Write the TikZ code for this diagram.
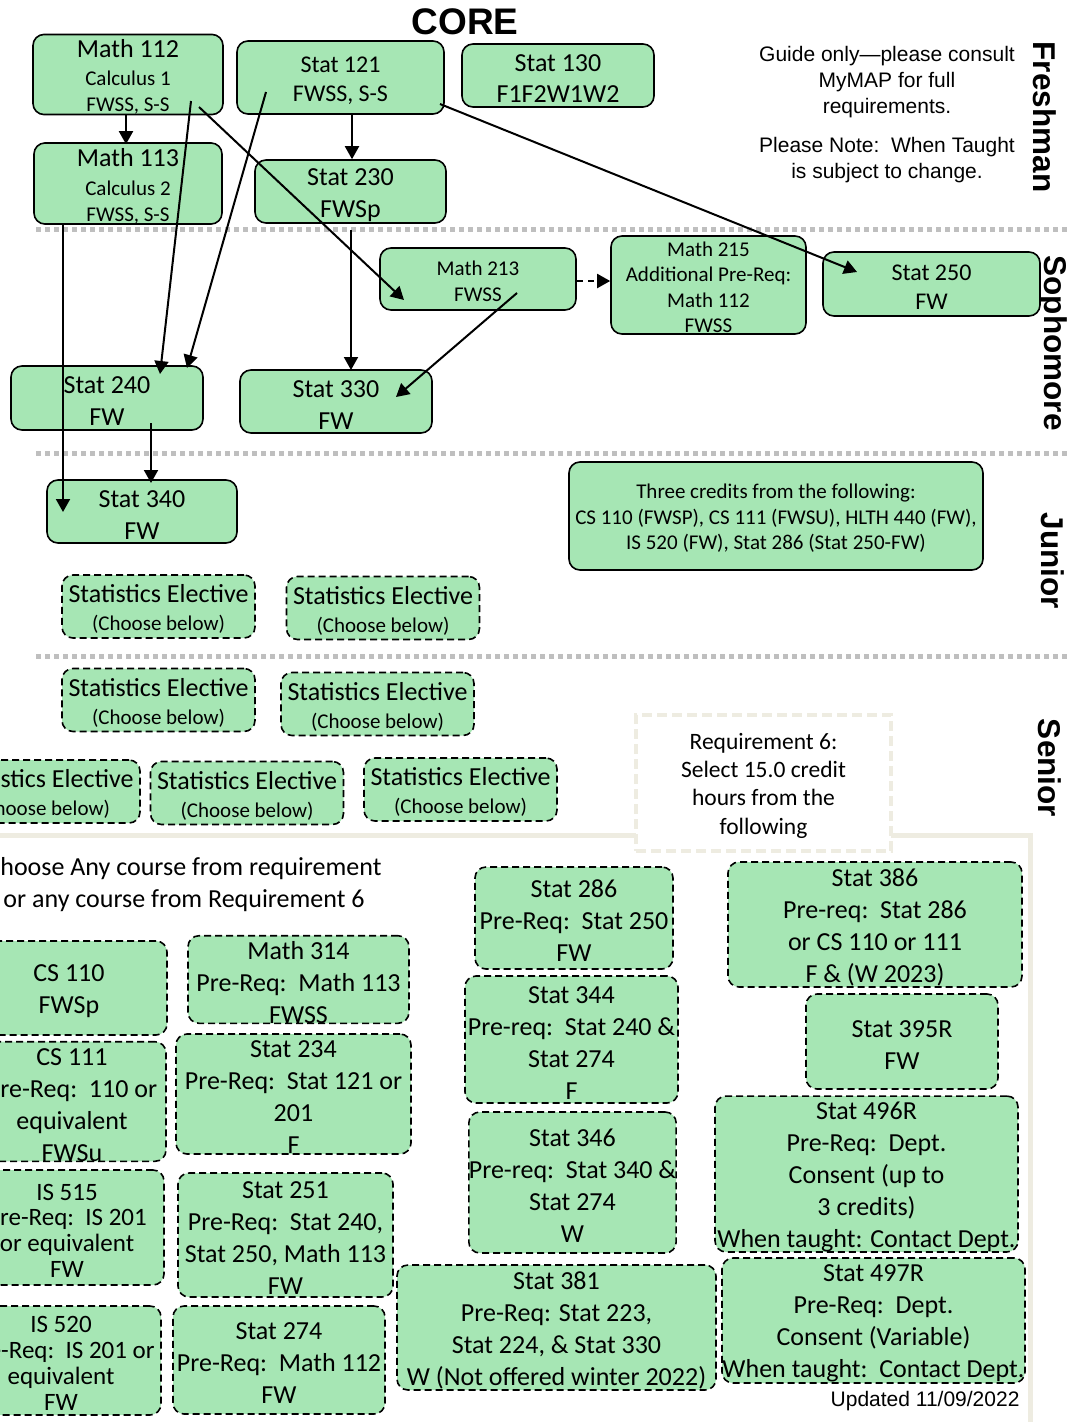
\documentclass[tikz,border=0pt]{standalone}
\usepackage{fontspec}
\setmainfont{Carlito}
\newfontfamily\arialfont{Liberation Sans}
\usetikzlibrary{arrows.meta,positioning}

\definecolor{boxgreen}{RGB}{166,230,180}
\definecolor{sepgray}{RGB}{191,191,191}
\definecolor{framebeige}{RGB}{238,236,225}

\newcommand{\topfix}{\rule{0pt}{0.9em}}

\tikzset{
    course/.style={draw=black, line width=1.6pt, rounded corners=11pt, fill=boxgreen,
        align=center, inner sep=0pt, font=\fontsize{26}{32}\selectfont},
    elective/.style={course, dash pattern=on 7pt off 4pt},
    sz/.style 2 args={minimum width=#1pt, minimum height=#2pt},
    arr/.style={line width=2pt, -{Triangle[length=13pt,width=14pt]}},
    sepline/.style={line width=5pt, sepgray, dash pattern=on 5pt off 4pt},
    yearlabel/.style={font=\arialfont\bfseries\fontsize{31.5}{32}\selectfont, rotate=-90},
}

\begin{document}
\begin{tikzpicture}[x=1pt,y=-1pt]
            \useasboundingbox (0,0) rectangle (1068,1422);

            % Draw year separators.
            \foreach \y in {229,453,656}
                \draw[sepline] (36,\y) -- (1068,\y);

            % Draw title, notes and year labels.
            \node[font=\arialfont\bfseries\fontsize{37}{40}\selectfont] (core) at (465,22) {CORE};
            \node[align=center, font=\arialfont\fontsize{21}{26}\selectfont] (guide) at (887,115)
                {Guide only—please consult\\MyMAP for full\\requirements.\\[13pt]Please Note:\ \ When Taught\\is subject to change.};
            \node[yearlabel] (fresh) at (1045,117) {Freshman};
            \node[yearlabel] (soph) at (1053,343) {Sophomore};
            \node[yearlabel] (junior) at (1053,561) {Junior};
            \node[yearlabel] (senior) at (1050,768) {Senior};

            % Draw freshman courses.
            \node[course, sz={190}{77}, font=\fontsize{21}{26}\selectfont] (m112) at (128,74.5)
                {{\fontsize{26}{26}\selectfont\topfix Math 112}\\[2pt]Calculus 1\\FWSS, S-S};
            \node[course, sz={207}{73}, font=\fontsize{24}{29}\selectfont] (s121) at (340.5,77.5) {\topfix Stat 121\\FWSS, S-S};
            \node[course, sz={192}{63}, font=\fontsize{26}{31}\selectfont] (s130) at (558,75.5) {\topfix Stat 130\\F1F2W1W2};
            \node[course, sz={188}{79}, font=\fontsize{21}{26}\selectfont] (m113) at (128,183.5)
                {{\fontsize{26}{26}\selectfont\topfix Math 113}\\[3pt]Calculus 2\\FWSS, S-S};
            \node[course, sz={191}{63}] (s230) at (350.5,191.5) {\topfix Stat 230\\FWSp};

            % Draw sophomore courses.
            \node[course, sz={196}{62}, font=\fontsize{21}{26}\selectfont] (m213) at (478,279) {\topfix Math 213\\FWSS};
            \node[course, sz={195}{98}, font=\fontsize{21}{25.3}\selectfont] (m215) at (708.5,285)
                {\topfix Math 215\\Additional Pre-Req:\\Math 112\\FWSS};
            \node[course, sz={217}{64}, font=\fontsize{24}{29}\selectfont] (s250) at (931.5,284) {\topfix Stat 250\\FW};
            \node[course, sz={192}{64}] (s240) at (107,398) {\topfix Stat 240\\FW};
            \node[course, sz={192}{63}] (s330) at (336,401.5) {\topfix Stat 330\\FW};

            % Draw junior courses.
            \node[course, sz={190}{63}] (s340) at (142,511.5) {\topfix Stat 340\\FW};
            \node[course, sz={414}{108}, font=\fontsize{21}{25.5}\selectfont] (three) at (776,516)
                {\topfix Three credits from the following:\\CS 110 (FWSP), CS 111 (FWSU), HLTH 440 (FW),\\IS 520 (FW), Stat 286 (Stat 250-FW)};

            % Draw elective slots.
            \foreach \n/\x/\y in {e1/158.5/606.5, e2/383/608, e3/158.5/700, e4/377.5/704,
                                  e5/43.5/791.5, e6/247/793, e7/460.5/789.5}
                \node[elective, sz={193}{63}, font=\fontsize{21}{28}\selectfont] (\n) at (\x,\y)
                    {{\fontsize{26}{28}\selectfont\topfix Statistics Elective}\\(Choose below)};

            % Draw requirement 6 frame.
            \draw[framebeige, line width=5pt] (-5,835) -- (636,835);
            \draw[framebeige, line width=5pt] (891,835) -- (1030,835) -- (1030,1430);
            \node[draw=framebeige, line width=4pt, dash pattern=on 10pt off 5pt, sz={255}{136}, inner sep=0pt,
                align=center, font=\fontsize{23.5}{28.3}\selectfont] (req6) at (763.5,783)
                {\topfix Requirement 6:\\Select 15.0 credit\\hours from the\\following};
            \node[align=center, font=\fontsize{26}{32}\selectfont] (choose) at (184,885)
                {Choose Any course from requirement\\or any course from Requirement 6};

            % Draw elective courses.
            \node[elective, sz={196}{94}] (cs110) at (69,988) {\topfix CS 110\\FWSp};
            \node[elective, sz={188}{117}] (cs111) at (72,1101.5) {\topfix CS 111\\Pre-Req:\ \ 110 or\\equivalent\\FWSu};
            \node[elective, sz={194}{115}, font=\fontsize{25}{25.7}\selectfont] (is515) at (67,1227.5)
                {\topfix IS 515\\Pre-Req:\ \ IS 201\\or equivalent\\FW};
            \node[elective, sz={200}{109}, font=\fontsize{25}{26}\selectfont] (is520) at (61,1360.5)
                {\topfix IS 520\\Pre-Req:\ \ IS 201 or\\equivalent\\FW};
            \node[elective, sz={221}{87}] (m314) at (298.5,979.5) {\topfix Math 314\\Pre-Req:\ \ Math 113\\FWSS};
            \node[elective, sz={235}{120}] (s234) at (293.5,1094) {\topfix Stat 234\\Pre-Req:\ \ Stat 121 or\\201\\F};
            \node[elective, sz={215}{124}] (s251) at (285.5,1235) {\topfix Stat 251\\Pre-Req:\ \ Stat 240,\\Stat 250, Math 113\\FW};
            \node[elective, sz={212}{108}] (s274) at (279,1360) {\topfix Stat 274\\Pre-Req:\ \ Math 112\\FW};
            \node[elective, sz={198}{102}] (s286) at (574,918) {\topfix Stat 286\\Pre-Req:\ \ Stat 250\\FW};
            \node[elective, sz={213}{127}] (s344) at (571.5,1039.5) {\topfix Stat 344\\Pre-req:\ \ Stat 240 \&\\Stat 274\\F};
            \node[elective, sz={207}{141}] (s346) at (572.5,1182.5) {\topfix Stat 346\\Pre-req:\ \ Stat 340 \&\\Stat 274\\W};
            \node[elective, sz={319}{125}] (s381) at (556.5,1327.5)
                {\topfix Stat 381\\Pre-Req: Stat 223,\\Stat 224, \& Stat 330\\W (Not offered winter 2022)};
            \node[elective, sz={294}{125}] (s386) at (875,924.5) {\topfix Stat 386\\Pre-req:\ \ Stat 286\\or CS 110 or 111\\F \& (W 2023)};
            \node[elective, sz={192}{95}] (s395) at (902,1041.5) {\topfix Stat 395R\\FW};
            \node[elective, sz={303}{152}] (s496) at (866.5,1174)
                {\topfix Stat 496R\\Pre-Req:\ \ Dept.\\Consent (up to\\3 credits)\\When taught: Contact Dept.};
            \node[elective, sz={303}{125}] (s497) at (873.5,1320.5)
                {\topfix Stat 497R\\Pre-Req:\ \ Dept.\\Consent (Variable)\\When taught:\ \ Contact Dept.};
            \node[anchor=east, font=\arialfont\fontsize{21}{24}\selectfont] (upd) at (1023,1401) {Updated 11/09/2022};

            % Draw prerequisite arrows.
            \draw[arr] ([shift={(-2,0)}]m112.south) -- ([shift={(-2,2)}]m113.north);
            \draw[arr] ([shift={(11.5,0)}]s121.south) -- ([shift={(1.5,0)}]s230.north);
            \draw[arr] ([shift={(63,26.5)}]m112.center) -- ([shift={(53,-24)}]s240.center);
            \draw[arr] ([shift={(-74.5,14.5)}]s121.center) -- ([shift={(80,-30)}]s240.center);
            \draw[arr] ([shift={(71,32.5)}]m112.center) -- ([shift={(-74,21)}]m213.center);
            \draw[arr] ([shift={(99.5,26.5)}]s121.center) -- ([shift={(-74.5,-12)}]s250.center);
            \draw[arr] ([shift={(-65,0)}]m113.south) -- ([shift={(-79,0.5)}]s340.center);
            \draw[arr] ([shift={(0.5,6)}]s230.south) -- ([shift={(15,-31.5)}]s330.center);
            \draw[arr] ([shift={(39,14)}]m213.center) -- ([shift={(60,-4.5)}]s330.center);
            \draw[arr, dash pattern=on 6pt off 5pt] ([shift={(0,2)}]m213.east) -- ([shift={(0,-4)}]m215.west);
            \draw[arr] ([shift={(44,25)}]s240.center) -- ([shift={(9,-28.5)}]s340.center);

            \end{tikzpicture}
\end{document}
